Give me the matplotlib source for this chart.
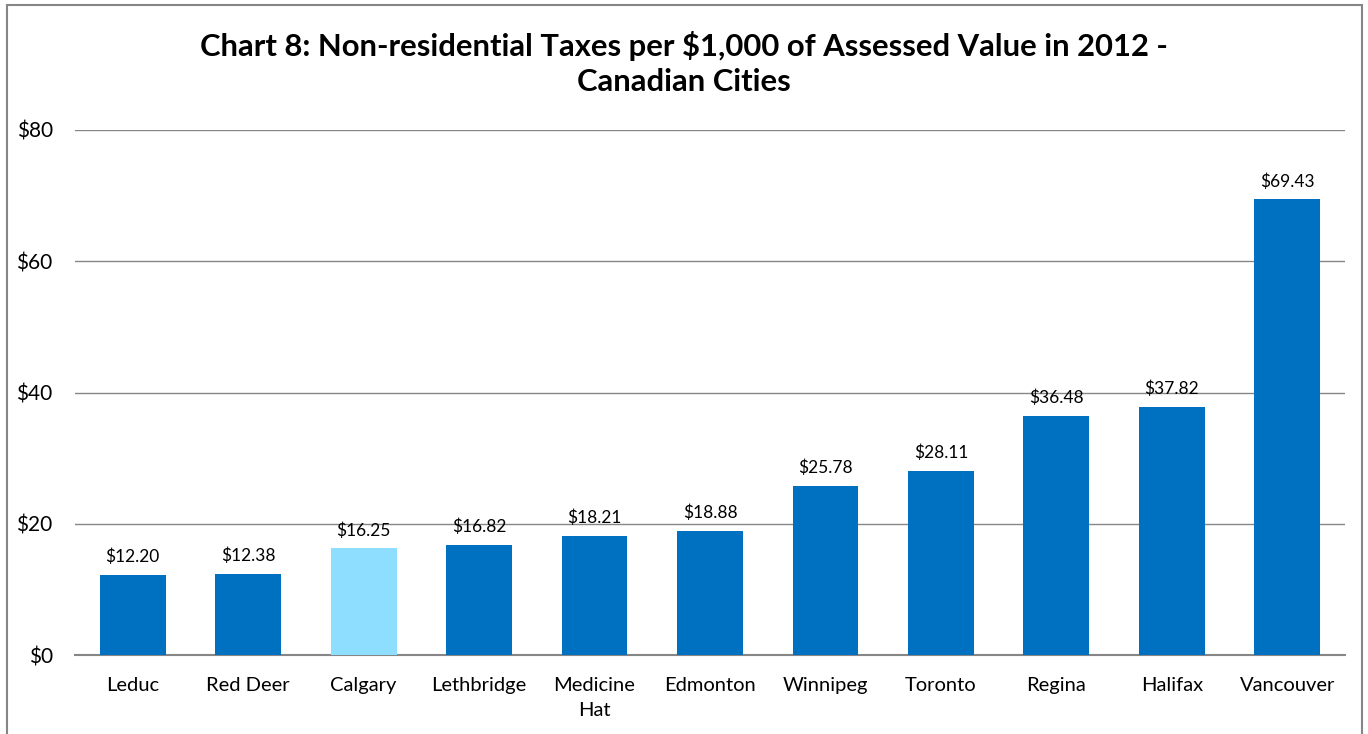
import numpy as np
import matplotlib.pyplot as plt
from matplotlib.patches import Rectangle

# chart data
cities = ['Leduc', 'Red Deer', 'Calgary', 'Lethbridge', 'Medicine\nHat', 'Edmonton',
          'Winnipeg', 'Toronto', 'Regina', 'Halifax', 'Vancouver']
taxes = [12.20, 12.38, 16.25, 16.82, 18.21, 18.88, 25.78, 28.11, 36.48, 37.82, 69.43]
yticks = [0, 20, 40, 60, 80]

plt.rcParams['font.family'] = ['Lato', 'DejaVu Sans']

fig = plt.figure(figsize=(13.68, 7.34), dpi=100)
ax = fig.add_axes([0.0548, 0.1076, 0.9284, 0.7153])

colors = ['#8EDFFF' if c == 'Calgary' else '#0070C0' for c in cities]
x = np.arange(len(cities))
bars = ax.bar(x, taxes, width=0.57, color=colors, zorder=3)

for xi, v in zip(x, taxes):
    ax.annotate('$%.2f' % v, (xi, v), xytext=(0, 7), textcoords='offset points',
                ha='center', va='bottom', fontsize=12.5, color='black')

ax.set_xlim(-0.5, len(cities) - 0.5)
ax.set_ylim(0, 80)
ax.set_yticks(yticks)
ax.set_yticklabels(['$%d' % t for t in yticks])
ax.set_xticks(x)
ax.set_xticklabels(cities, linespacing=1.55)
ax.tick_params(axis='both', length=0, labelsize=14.5)
ax.tick_params(axis='y', pad=16, labelsize=15)
ax.tick_params(axis='x', pad=16)
ax.grid(axis='y', color='#868686', linewidth=1, zorder=0)
for s in ['top', 'right', 'left']:
    ax.spines[s].set_visible(False)
ax.spines['bottom'].set_color('#868686')
ax.spines['bottom'].set_linewidth(1.5)

fig.suptitle('Chart 8: Non-residential Taxes per $1,000 of Assessed Value in 2012 -\nCanadian Cities',
             fontsize=22.3, fontweight='bold', y=0.958, linespacing=1.33)

# outer border of the chart area
fig.patches.append(Rectangle((7 / 1368, -0.01), 1355 / 1368, 1 - 5 / 734 + 0.01,
                             transform=fig.transFigure, fill=False,
                             edgecolor='#868686', linewidth=1.5))

plt.savefig('out.png', dpi=100)
